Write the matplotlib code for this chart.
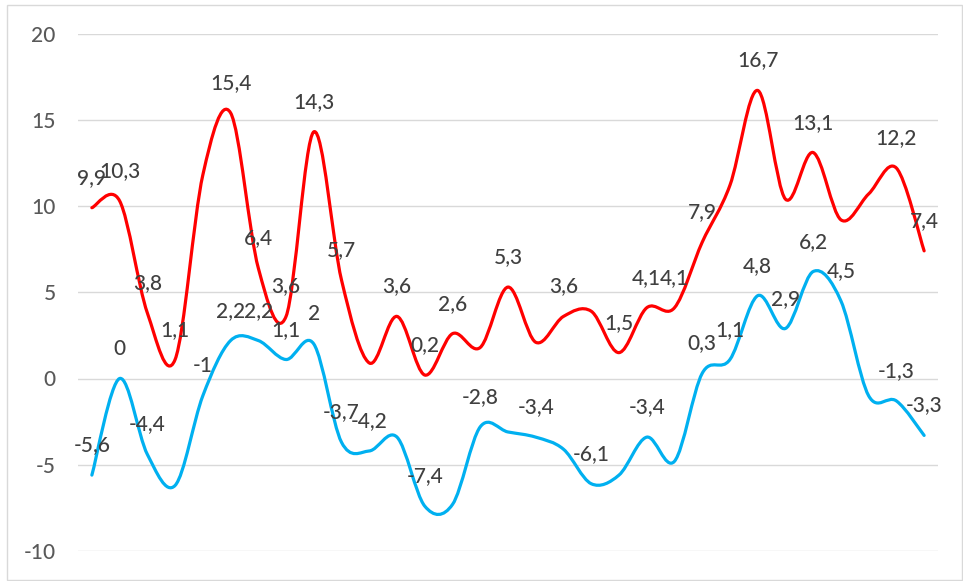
import matplotlib
matplotlib.use("Agg")
import matplotlib.pyplot as plt
from matplotlib.path import Path
from matplotlib.patches import PathPatch, Rectangle
import numpy as np

plt.rcParams['font.family'] = ['Lato', 'DejaVu Sans']

red = [9.9, 10.3, 3.8, 1.1, 11.8, 15.4, 6.4, 3.6, 14.3, 5.7, 0.9, 3.6, 0.2, 2.6, 1.8,
       5.3, 2.1, 3.6, 3.9, 1.5, 4.1, 4.1, 7.9, 11.2, 16.7, 10.4, 13.1, 9.2, 10.7, 12.2, 7.4]
blue = [-5.6, 0, -4.4, -6.2, -1, 2.2, 2.2, 1.1, 2, -3.7, -4.2, -3.4, -7.4, -7.3, -2.8,
        -3.1, -3.4, -4.1, -6.1, -5.6, -3.4, -4.8, 0.3, 1.1, 4.8, 2.9, 6.2, 4.5, -1.0, -1.3, -3.3]
red_labeled = [0, 1, 2, 3, 5, 6, 7, 8, 9, 11, 12, 13, 15, 17, 19, 20, 21, 22, 24, 26, 29, 30]
blue_labeled = [0, 1, 2, 4, 5, 6, 7, 8, 9, 10, 12, 14, 16, 18, 20, 22, 23, 24, 25, 26, 27, 29, 30]
yticks = [-10, -5, 0, 5, 10, 15, 20]


def smooth_path(ys):
    n = len(ys)
    xs = np.arange(n, dtype=float)
    pts = np.column_stack([xs, np.asarray(ys, float)])
    verts = [pts[0]]
    codes = [Path.MOVETO]
    for i in range(n - 1):
        p0 = pts[i - 1] if i > 0 else pts[i]
        p1 = pts[i]
        p2 = pts[i + 1]
        p3 = pts[i + 2] if i + 2 < n else pts[i + 1]
        c1 = p1 + (p2 - p0) / 6.0
        c2 = p2 - (p3 - p1) / 6.0
        verts += [c1, c2, p2]
        codes += [Path.CURVE4] * 3
    return Path(verts, codes)


fig = plt.figure(figsize=(9.63, 5.81), dpi=100)
ax = fig.add_axes([78 / 963, 1 - 551 / 581, (938 - 78) / 963, (551 - 33.5) / 581])

for ys, col, lab in [(red, '#ff0000', red_labeled), (blue, '#00b0f0', blue_labeled)]:
    ax.add_patch(PathPatch(smooth_path(ys), facecolor='none', edgecolor=col,
                           lw=2.3, capstyle='round', joinstyle='round', zorder=3))
    for i in lab:
        txt = ('%g' % ys[i]).replace('.', ',')
        ax.annotate(txt, (i, ys[i]), xytext=(0, 21.5), textcoords='offset points',
                    ha='center', va='center', fontsize=15, fontweight='medium',
                    color='#404040', zorder=4)

ax.set_xlim(-0.5, len(red) - 0.5)
ax.set_ylim(-10, 20)
ax.set_yticks(yticks)
ax.set_yticklabels([str(t) for t in yticks], fontweight='medium')
ax.set_xticks([])
ax.grid(axis='y', color='#d9d9d9', lw=1.0)
ax.set_axisbelow(True)
for s in ax.spines.values():
    s.set_visible(False)
ax.tick_params(axis='y', length=0, pad=16, labelsize=15, labelcolor='#595959')

fig.patches.append(Rectangle((7 / 963, 1 - 580 / 581), (962 - 7) / 963, (580 - 5) / 581,
                             transform=fig.transFigure, facecolor='none',
                             edgecolor='#d9d9d9', lw=1.0))

fig.savefig('out.png', dpi=100)
